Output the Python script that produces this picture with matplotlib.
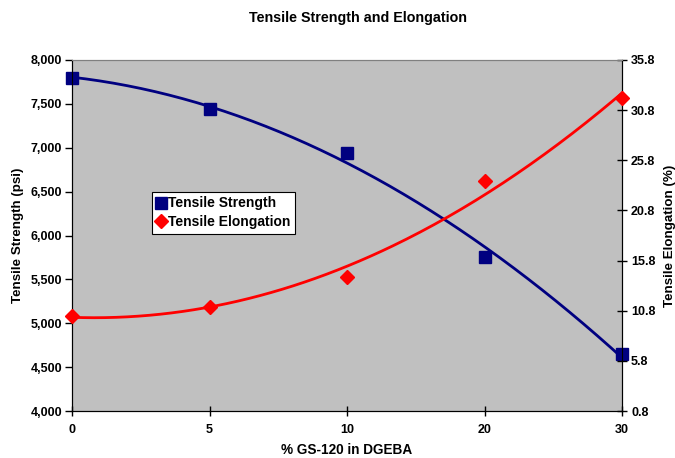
import numpy as np
import matplotlib
matplotlib.use("Agg")
import matplotlib.pyplot as plt
from matplotlib.ticker import FuncFormatter

plt.rcParams['font.family'] = ['Liberation Sans', 'DejaVu Sans']

categories = ["0", "5", "10", "20", "30"]
tensile_strength = [7800, 7440, 6940, 5750, 4650]
tensile_elongation = [10.3, 11.2, 14.2, 23.7, 32.0]
left_ticks = [4000, 4500, 5000, 5500, 6000, 6500, 7000, 7500, 8000]
right_ticks = [0.8, 5.8, 10.8, 15.8, 20.8, 25.8, 30.8, 35.8]

navy = "#000080"
red = "#FF0000"

fig = plt.figure(figsize=(6.75, 4.58), dpi=100)
ax = fig.add_axes([0.1067, 0.1026, 0.8148, 0.7664])
ax2 = ax.twinx()
ax.set_facecolor("#C0C0C0")

idx = np.arange(len(categories))
xs = np.linspace(0, len(categories) - 1, 200)

# polynomial (order 2) trendlines, as in the spreadsheet chart
p1 = np.polyfit(idx, tensile_strength, 2)
p2 = np.polyfit(idx, tensile_elongation, 2)
ax.plot(xs, np.polyval(p1, xs), color=navy, lw=2, zorder=2)
ax2.plot(xs, np.polyval(p2, xs), color=red, lw=2, zorder=2)

h1, = ax.plot(idx, tensile_strength, ls="none", marker="s", ms=8.5,
              color=navy, label="Tensile Strength", zorder=3, clip_on=False)
h2, = ax2.plot(idx, tensile_elongation, ls="none", marker="D", ms=7,
               color=red, label="Tensile Elongation", zorder=3, clip_on=False)

ax.set_xlim(0, len(categories) - 1)
ax.set_ylim(4000, 8000)
ax2.set_ylim(0.8, 35.8)
ax.set_xticks(idx)
ax.set_xticklabels(categories)
ax.set_yticks(left_ticks)
ax.yaxis.set_major_formatter(FuncFormatter(lambda v, p: f"{int(v):,}"))
ax2.set_yticks(right_ticks)
ax2.set_yticklabels([f"{v:.1f}" for v in right_ticks])

for a in (ax, ax2):
    for lab in a.get_xticklabels() + a.get_yticklabels():
        lab.set_fontweight("bold")
        lab.set_fontsize(9)

ax.tick_params(axis="y", direction="out", length=5, width=1, pad=2)
ax.tick_params(axis="x", direction="inout", length=7, width=1, pad=6)
ax2.tick_params(axis="y", direction="inout", length=7, width=1, pad=3)

ax.spines["top"].set_color("#808080")
for s in ("left", "bottom"):
    ax.spines[s].set_color("black")
ax2.spines["right"].set_color("black")
ax2.spines["top"].set_color("#808080")

ax.set_xlabel("% GS-120 in DGEBA", fontsize=9.8, fontweight="bold", labelpad=5)
ax.set_ylabel("Tensile Strength (psi)", fontsize=9.6, fontweight="bold", labelpad=5)
ax2.set_ylabel("Tensile Elongation (%)", fontsize=9.6, fontweight="bold", labelpad=6)
fig.suptitle("Tensile Strength and Elongation", x=0.53, y=0.975,
             fontsize=10.3, fontweight="bold")

leg = ax2.legend(handles=[h1, h2], loc="upper left", bbox_to_anchor=(0.145, 0.625),
                 prop={"weight": "bold", "size": 10}, frameon=True, fancybox=False,
                 edgecolor="black", framealpha=1, handlelength=0.6,
                 handletextpad=0.2, borderpad=0.35, labelspacing=0.35,
                 borderaxespad=0)
leg.get_frame().set_linewidth(0.8)

fig.savefig("out.png", dpi=100)
